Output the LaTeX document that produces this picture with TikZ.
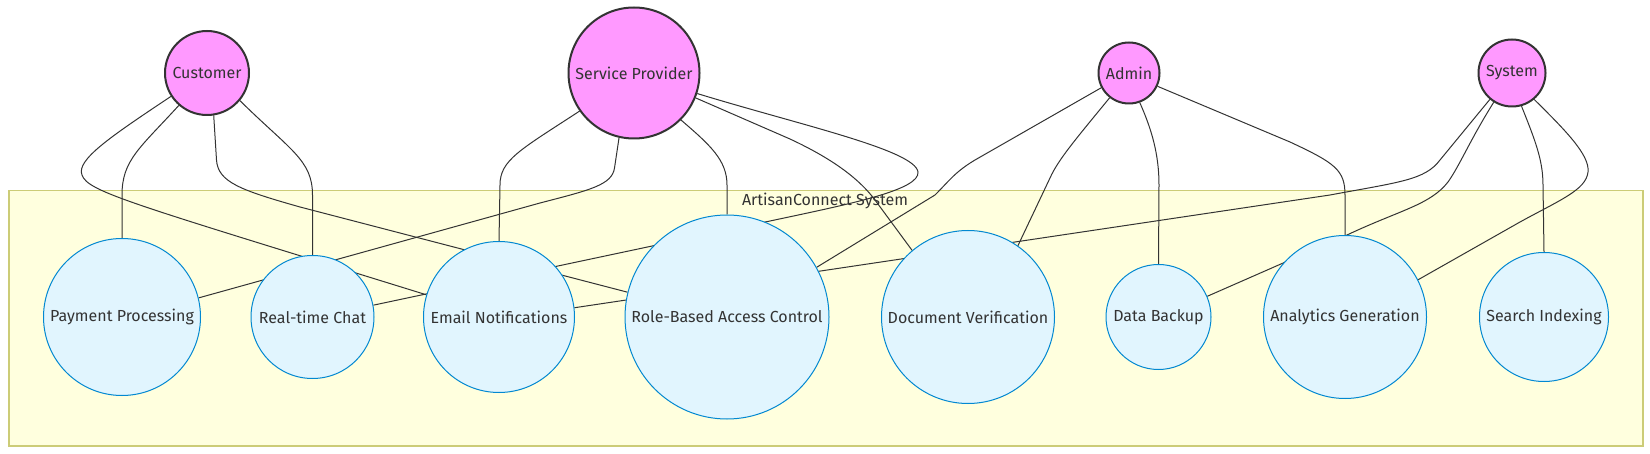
\documentclass[tikz,border=0pt]{standalone}
\usepackage{fontspec}
\setmainfont{Fira Sans}
\pgfdeclarelayer{bg}
\pgfdeclarelayer{edges}
\pgfsetlayers{bg,edges,main}
\definecolor{txt}{HTML}{333333}
\definecolor{actfill}{HTML}{FF99FF}
\definecolor{ucfill}{HTML}{E1F5FE}
\definecolor{ucline}{HTML}{0288D1}
\definecolor{boxfill}{HTML}{FFFFDE}
\definecolor{boxline}{HTML}{CCCC77}
\tikzset{
  actor/.style={circle, draw=txt, line width=2pt, fill=actfill, inner sep=0pt, text=txt, font=\fontsize{16pt}{19pt}\selectfont},
  usecase/.style={circle, draw=ucline, line width=1pt, fill=ucfill, inner sep=0pt, text=txt, font=\fontsize{16pt}{19pt}\selectfont},
  link/.style={draw=txt, line width=1pt},
}
\begin{document}
\begin{tikzpicture}[x=1pt,y=-1pt]
\useasboundingbox (0,0) rectangle (1650,454);
\begin{pgfonlayer}{bg}
  \node[draw=boxline, line width=1.5pt, fill=boxfill, minimum width=1634pt, minimum height=255pt, inner sep=0pt, anchor=north west] (sysbox) at (8,190) {};
  \node[text=txt, font=\fontsize{16pt}{19pt}\selectfont] (title) at (825,201) {ArtisanConnect System};
\end{pgfonlayer}

\node[actor, minimum size=84pt] (cust) at (207,73) {Customer};
\node[actor, minimum size=131pt] (sp) at (634,73) {Service Provider};
\node[actor, minimum size=61pt] (admin) at (1129,73) {Admin};
\node[actor, minimum size=67pt] (sys) at (1512,73) {System};

\node[usecase, minimum size=157pt] (pay) at (122,317) {Payment Processing};
\node[usecase, minimum size=123pt] (chat) at (312.5,317) {Real-time Chat};
\node[usecase, minimum size=151pt] (email) at (499,317) {Email Notifications};
\node[usecase, minimum size=204pt] (rbac) at (727,317) {Role-Based Access Control};
\node[usecase, minimum size=173pt] (doc) at (968,317) {Document Verification};
\node[usecase, minimum size=105pt] (backup) at (1158.5,317) {Data Backup};
\node[usecase, minimum size=163pt] (anal) at (1345,317) {Analytics Generation};
\node[usecase, minimum size=129pt] (search) at (1544,317) {Search Indexing};

\begin{pgfonlayer}{edges}
  % Customer
  \draw[link] (cust.229) .. controls (140,148) and (122,160) .. (122,195) -- (pay.90);
  \draw[link] (cust.320) .. controls (290,150) and (312.5,160) .. (312.5,195) -- (chat.90);
  \draw[link] (cust.213) .. controls (110,137) and (76,160) .. (82,175) .. controls (88,192) and (130,203) .. (email.163);
  \draw[link] (cust.279) -- (216.5,160) .. controls (218,182) and (240,190) .. (300,207) -- (rbac.166);
  % Service Provider
  \draw[link] (sp.257) -- (614.5,168) .. controls (612,185) and (590,190) .. (540,203) -- (pay.14);
  \draw[link] (sp.215) .. controls (520,150) and (500,160) .. (500,185) -- (email.90);
  \draw[link] (sp.315) .. controls (710,145) and (727,160) .. (727,185) -- (rbac.90);
  \draw[link] (sp.338) -- (790,139) .. controls (835,160) and (860,180) .. (875,200) -- (doc.130);
  \draw[link] (sp.342) .. controls (800,125) and (915,150) .. (918,172) .. controls (920,190) and (850,204) .. (770,221) -- (chat.11);
  % Admin
  \draw[link] (admin.208) -- (975,160) .. controls (955,172) and (950,180) .. (935,195) -- (rbac.29);
  \draw[link] (admin.232) .. controls (1075,140) and (1058,160) .. (1050,178) -- (doc.55);
  \draw[link] (admin.290) .. controls (1152,130) and (1159,155) .. (1159,185) -- (backup.90);
  \draw[link] (admin.335) -- (1290,142) .. controls (1335,163) and (1345,170) .. (1345,195) -- (anal.90);
  % System
  \draw[link] (sys.230) -- (1440,160) .. controls (1425,180) and (1400,182) .. (1330,195) -- (email.7);
  \draw[link] (sys.238) .. controls (1470,140) and (1460,165) .. (1448,182) .. controls (1430,205) and (1400,210) .. (1347,235) -- (backup.23);
  \draw[link] (sys.286) .. controls (1535,140) and (1543,160) .. (1543,185) -- (search.90);
  \draw[link] (sys.310) .. controls (1565,130) and (1590,155) .. (1588,172) .. controls (1586,190) and (1560,200) .. (1520,222) -- (anal.27);
\end{pgfonlayer}
\end{tikzpicture}
\end{document}
